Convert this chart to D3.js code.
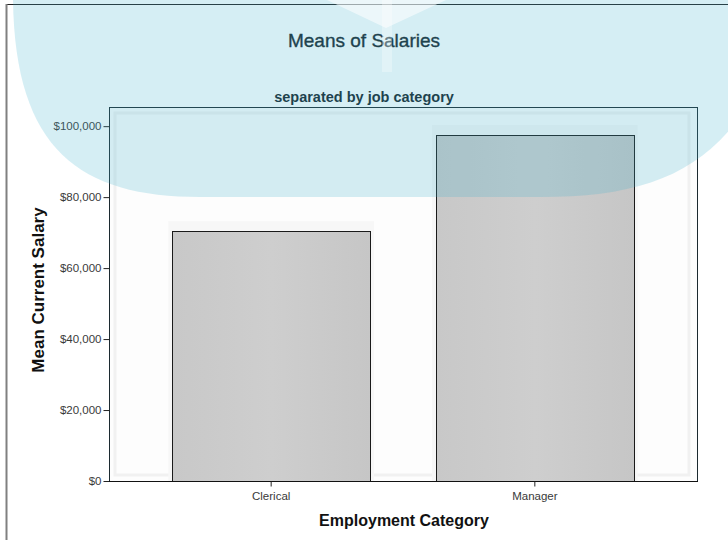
<!DOCTYPE html>
<html>
<head>
<meta charset="utf-8">
<script src="https://cdn.jsdelivr.net/npm/d3@7/dist/d3.min.js"></script>
<style>
  html, body { margin: 0; padding: 0; background: #ffffff; }
  svg { display: block; font-family: Arial, "Liberation Sans", sans-serif; }
</style>
</head>
<body>
<svg id="chart" width="728" height="540"></svg>
<script>
// ---- data ----
const categories = ["Clerical", "Manager"];
const meanSalary = [70400, 97500];
const yTickValues = [0, 20000, 40000, 60000, 80000, 100000];
const titleText = "Means of Salaries";
const subtitleText = "separated by job category";
const xTitle = "Employment Category";
const yTitle = "Mean Current Salary";

// ---- layout ----
const svg = d3.select("#chart");
const plot = { left: 109, right: 697, top: 107, bottom: 481 };

const x = d3.scaleBand()
  .domain(categories)
  .range([plot.left, plot.right])
  .paddingInner(0.25)
  .paddingOuter(0.24);

const y = d3.scaleLinear()
  .domain([0, 105400])
  .range([plot.bottom, plot.top]);

const defs = svg.append("defs");
const barGrad = defs.append("linearGradient").attr("id", "barGrad")
  .attr("x1", "0").attr("x2", "1").attr("y1", "0").attr("y2", "0");
barGrad.append("stop").attr("offset", "0%").attr("stop-color", "#c8c8c8");
barGrad.append("stop").attr("offset", "50%").attr("stop-color", "#cecece");
barGrad.append("stop").attr("offset", "100%").attr("stop-color", "#c6c6c6");

// outer frame
svg.append("line").attr("x1", 6).attr("x2", 728).attr("y1", 4.5).attr("y2", 4.5)
  .attr("stroke", "#222").attr("stroke-width", 1);
svg.append("line").attr("x1", 6.5).attr("x2", 6.5).attr("y1", 4).attr("y2", 540)
  .attr("stroke", "#808080").attr("stroke-width", 2);

// plot background with faint inner frames
svg.append("rect")
  .attr("x", plot.left).attr("y", plot.top)
  .attr("width", plot.right - plot.left).attr("height", plot.bottom - plot.top)
  .attr("fill", "#fdfdfd");
svg.append("rect")
  .attr("x", plot.left + 6).attr("y", plot.top + 6)
  .attr("width", plot.right - plot.left - 14).attr("height", plot.bottom - plot.top - 12)
  .attr("fill", "none").attr("stroke", "#f1f1f1").attr("stroke-width", 3);

// bar halos
svg.append("g").selectAll("rect.halo")
  .data(categories)
  .join("rect")
  .attr("class", "halo")
  .attr("x", d => x(d) - 4)
  .attr("y", (d, i) => y(meanSalary[i]) - 10)
  .attr("width", x.bandwidth() + 8)
  .attr("height", (d, i) => plot.bottom - y(meanSalary[i]) + 10)
  .attr("fill", "#f7f7f7");

// bars
svg.append("g").selectAll("rect.bar")
  .data(categories)
  .join("rect")
  .attr("class", "bar")
  .attr("x", d => Math.round(x(d)) + 0.5)
  .attr("y", (d, i) => Math.round(y(meanSalary[i])) + 0.5)
  .attr("width", Math.round(x.bandwidth()))
  .attr("height", (d, i) => plot.bottom - Math.round(y(meanSalary[i])))
  .attr("fill", "url(#barGrad)")
  .attr("stroke", "#1a1a1a").attr("stroke-width", 1);

// plot frame
svg.append("rect")
  .attr("x", plot.left + 0.5).attr("y", plot.top + 0.5)
  .attr("width", plot.right - plot.left).attr("height", plot.bottom - plot.top)
  .attr("fill", "none").attr("stroke", "#1c2a30").attr("stroke-width", 1);

// y axis
const yAxis = d3.axisLeft(y)
  .tickValues(yTickValues)
  .tickSize(6)
  .tickPadding(2)
  .tickFormat(d => "$" + d3.format(",")(d));
const gy = svg.append("g")
  .attr("transform", `translate(${plot.left + 0.5},0)`)
  .call(yAxis);
gy.select(".domain").remove();
gy.selectAll(".tick line").attr("stroke", "#222");
gy.selectAll(".tick text")
  .attr("fill", "#3a3a3a")
  .style("font-size", "11.5px")
  .style("font-family", "Arial, 'Liberation Sans', sans-serif");

// x axis
const xAxis = d3.axisBottom(x).tickSize(5).tickPadding(5);
const gx = svg.append("g")
  .attr("transform", `translate(0,${plot.bottom + 0.5})`)
  .call(xAxis);
gx.select(".domain").attr("stroke", "#111").attr("d", `M${plot.left},0H${plot.right + 1}`);
gx.selectAll(".tick line").attr("stroke", "#222");
gx.selectAll(".tick text")
  .attr("fill", "#3a3a3a")
  .style("font-size", "11.5px")
  .style("font-family", "Arial, 'Liberation Sans', sans-serif");

// titles
svg.append("text")
  .attr("x", 364).attr("y", 47)
  .attr("text-anchor", "middle")
  .style("font-size", "19px")
  .attr("fill", "#15232a")
  .attr("stroke", "#15232a").attr("stroke-width", 0.35)
  .text(titleText);

svg.append("text")
  .attr("x", 364).attr("y", 102)
  .attr("text-anchor", "middle")
  .style("font-size", "14.5px")
  .style("font-weight", "bold")
  .attr("fill", "#15232a")
  .text(subtitleText);

svg.append("text")
  .attr("x", 404).attr("y", 526)
  .attr("text-anchor", "middle")
  .style("font-size", "16px")
  .style("font-weight", "bold")
  .attr("fill", "#111")
  .text(xTitle);

svg.append("text")
  .attr("transform", "translate(44,290) rotate(-90)")
  .attr("text-anchor", "middle")
  .style("font-size", "17px")
  .style("font-weight", "bold")
  .attr("fill", "#111")
  .text(yTitle);

// translucent blue overlay (decorative watermark in the reference)
svg.append("path")
  .attr("d", "M13,0 C15,150 80,197 200,197 L540,197 C640,197 700,175 745,110 L745,0 Z")
  .attr("fill", "rgb(64,177,205)")
  .attr("fill-opacity", 0.22);
svg.append("path")
  .attr("d", "M327,0 L446,0 L386,28 Z")
  .attr("fill", "#ffffff").attr("fill-opacity", 0.55);
svg.append("rect")
  .attr("x", 382).attr("y", 0).attr("width", 10).attr("height", 72)
  .attr("fill", "#ffffff").attr("fill-opacity", 0.3);
</script>
</body>
</html>
